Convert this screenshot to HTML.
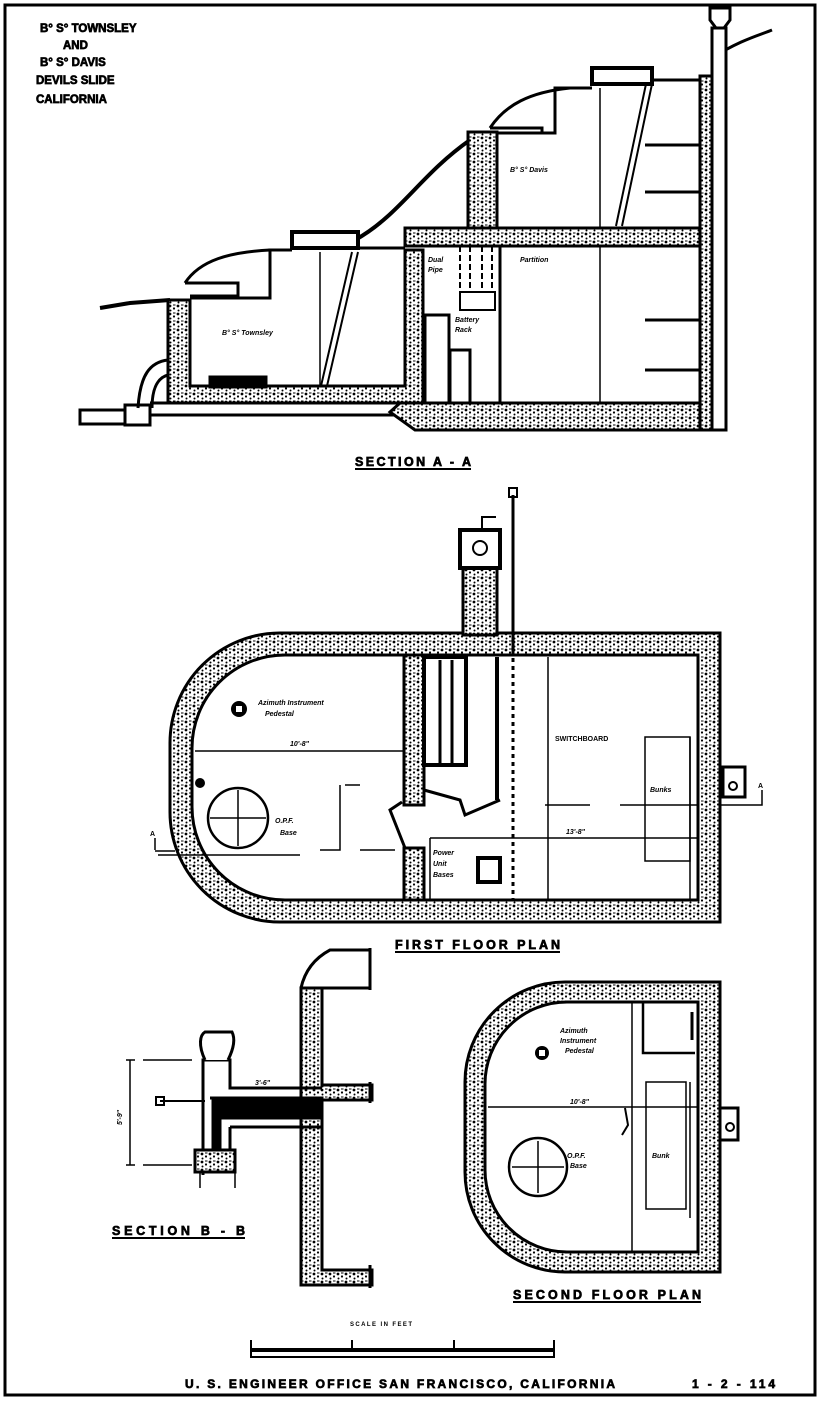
<!DOCTYPE html>
<html><head><meta charset="utf-8"><style>
html,body{margin:0;padding:0;background:#fff}
svg{display:block}
text{font-family:"Liberation Sans",sans-serif;font-weight:bold;fill:#000}
.h{stroke:#000;stroke-width:0.7}
</style></head><body>
<svg width="823" height="1402" viewBox="0 0 823 1402" xmlns="http://www.w3.org/2000/svg">
<defs>
<pattern id="sp" width="8" height="8" patternUnits="userSpaceOnUse">
<rect width="8" height="8" fill="#fff"/>
<circle cx="2" cy="2" r="1.4" fill="#000"/><circle cx="6" cy="4.5" r="1.1" fill="#000"/><circle cx="2.5" cy="6.5" r="1" fill="#000"/><rect x="5" y="0.5" width="2.5" height="1" fill="#000"/>
</pattern>
</defs>
<rect x="5" y="5" width="810" height="1390" fill="none" stroke="#000" stroke-width="3"/>

<!-- title -->
<g font-size="11.5" class="h">
<text x="40" y="32" class="h">B° S° TOWNSLEY</text>
<text x="63" y="49" class="h">AND</text>
<text x="40" y="66" class="h">B° S° DAVIS</text>
<text x="36" y="84" class="h">DEVILS SLIDE</text>
<text x="36" y="103" class="h">CALIFORNIA</text>
</g>

<!-- SECTION A-A -->
<g stroke="#000" stroke-width="3" fill="none">
<path d="M100,308 L130,303 L170,300" stroke-width="4"/>
<path d="M355,240 C400,215 420,175 470,140" stroke-width="4"/>
<path d="M712,58 C740,40 760,35 772,30" stroke-width="3"/>
<path d="M185,283 C200,260 230,252 270,250 M185,283 H238 V296 H190" stroke-width="3"/>
<path d="M490,128 C505,105 530,92 570,88 M490,128 H542 V133 H497" stroke-width="3"/>
<rect x="292" y="232" width="66" height="16" fill="#fff" stroke-width="4"/>
<rect x="592" y="68" width="60" height="16" fill="#fff" stroke-width="4"/>
</g>
<path d="M168,300 H190 V386 H405 V250 H423 V403 H168 Z" fill="url(#sp)" stroke="#000" stroke-width="3"/>
<path d="M405,228 H712 V246 H405 Z" fill="url(#sp)" stroke="#000" stroke-width="3"/>
<path d="M400,403 H720 V430 H415 L390,412 Z" fill="url(#sp)" stroke="#000" stroke-width="3"/>
<path d="M700,76 H720 V430 H700 Z" fill="url(#sp)" stroke="#000" stroke-width="3"/>
<path d="M468,132 H497 V228 H468 Z" fill="url(#sp)" stroke="#000" stroke-width="3"/>
<g stroke="#000" stroke-width="3" fill="none">
<path d="M190,298 H270 V250 H292 M358,248 H405"/>
<path d="M497,133 H555 V88 H592 M652,80 H700"/>
<rect x="712" y="28" width="14" height="402" fill="#fff" stroke-width="3"/>
<path d="M710,8 H730 V20 L724,28 H716 L710,20 Z" fill="#fff"/>
<path d="M168,360 C150,362 140,375 138,408 M168,375 C156,378 152,392 152,408" stroke-width="3"/>
<rect x="80" y="410" width="45" height="14" stroke-width="3"/>
<rect x="125" y="405" width="25" height="20" stroke-width="3"/>
<path d="M150,403 H390 M150,415 H395" stroke-width="3"/>
<path d="M320,252 V386 M600,246 V403 M600,88 V228" stroke-width="1.5"/>
<path d="M358,252 L327,386 M352,252 L321,386" stroke-width="2"/>
<path d="M652,84 L622,226 M646,84 L616,226" stroke-width="2"/>
<path d="M500,246 V403" stroke-width="3"/>
<path d="M645,145 H700 M645,192 H700 M645,320 H700 M645,370 H700" stroke-width="3"/>
<rect x="210" y="377" width="56" height="10" fill="#000"/>
<rect x="425" y="315" width="24" height="88" stroke-width="3"/>
<rect x="450" y="350" width="20" height="53" stroke-width="3"/>
<rect x="460" y="292" width="35" height="18" stroke-width="2"/>
<path d="M460,246 V290 M470,246 V290 M482,246 V290 M492,246 V290" stroke-width="2" stroke-dasharray="6,3"/>
</g>
<g font-size="7" font-style="italic">
<text x="222" y="335">B° S° Townsley</text>
<text x="510" y="172">B° S° Davis</text>
<text x="428" y="262">Dual</text><text x="428" y="272">Pipe</text>
<text x="520" y="262">Partition</text>
<text x="455" y="322">Battery</text><text x="455" y="332">Rack</text>
</g>
<text x="355" y="466" font-size="12.5" textLength="116" class="h">SECTION A - A</text>
<path d="M355,469 H471" stroke="#000" stroke-width="2"/>

<!-- FIRST FLOOR PLAN -->
<path fill-rule="evenodd" fill="url(#sp)" stroke="#000" stroke-width="3" d="M280,633 H720 V922 H280 A110,110 0 0 1 170,812 V743 A110,110 0 0 1 280,633 Z M285,655 H698 V900 H285 A93,93 0 0 1 192,807 V748 A93,93 0 0 1 285,655 Z"/>
<rect x="404" y="655" width="20" height="150" fill="url(#sp)" stroke="#000" stroke-width="3"/>
<rect x="404" y="848" width="20" height="52" fill="url(#sp)" stroke="#000" stroke-width="3"/>
<rect x="463" y="540" width="34" height="95" fill="url(#sp)" stroke="#000" stroke-width="3"/>
<rect x="460" y="530" width="40" height="38" fill="#fff" stroke="#000" stroke-width="4"/>
<circle cx="480" cy="548" r="7" fill="none" stroke="#000" stroke-width="2"/>
<g stroke="#000" stroke-width="3" fill="none">
<path d="M513,495 V655"/><rect x="509" y="488" width="8" height="9" stroke-width="2"/>
<path d="M482,530 V517 H496" stroke-width="2"/>
<rect x="424" y="657" width="42" height="108" stroke-width="4"/>
<path d="M440,660 V763 M452,660 V763" stroke-width="3"/>
<path d="M497,657 V800" stroke-width="4"/>
<path d="M513,658 V900" stroke-width="3" stroke-dasharray="4,4"/>
<path d="M424,790 L460,800 L465,815 L500,800" stroke-width="3"/>
<path d="M402,802 L390,810 L405,848" stroke-width="3"/>
<path d="M548,657 V900" stroke-width="1.5"/>
<path d="M195,751 H404" stroke-width="1.5"/>
<path d="M430,838 H698" stroke-width="1.5"/>
<path d="M430,838 V900" stroke-width="1.5"/>
<rect x="645" y="737" width="45" height="124" stroke-width="1.5"/>
<path d="M690,737 V900" stroke-width="1.5"/>
<path d="M545,805 H590 M620,805 H698 M340,785 V850 H320 M345,785 H360 M360,850 H395" stroke-width="1.5"/>
<path d="M155,850 V838 M155,851 H175 M720,805 H762 V790" stroke-width="1.5"/>
<rect x="723" y="767" width="22" height="30" stroke-width="3"/>
<circle cx="733" cy="786" r="4" stroke-width="2"/>
<rect x="478" y="858" width="22" height="24" stroke-width="4"/>
<circle cx="238" cy="818" r="30" stroke-width="2.5"/>
<path d="M210,818 H266 M238,790 V846" stroke-width="1.5"/>
<path d="M158,855 H300" stroke-width="1.5"/>
</g>
<circle cx="200" cy="783" r="5" fill="#000"/>
<circle cx="239" cy="709" r="8" fill="#000"/><rect x="236" y="706" width="6" height="6" fill="#fff"/>
<g font-size="7" font-style="italic">
<text x="258" y="705">Azimuth Instrument</text><text x="265" y="716">Pedestal</text>
<text x="290" y="746">10'-8"</text>
<text x="275" y="823">O.P.F.</text><text x="280" y="835">Base</text>
<text x="555" y="741" font-style="normal" font-size="7">SWITCHBOARD</text>
<text x="650" y="792">Bunks</text>
<text x="566" y="834">13'-8"</text>
<text x="433" y="855">Power</text><text x="433" y="866">Unit</text><text x="433" y="877">Bases</text>
<text x="150" y="836" font-style="normal">A</text><text x="758" y="788" font-style="normal">A</text>
</g>
<text x="395" y="949" font-size="12.5" textLength="165" class="h">FIRST FLOOR PLAN</text>
<path d="M395,952 H560" stroke="#000" stroke-width="2"/>

<!-- SECTION B-B -->
<path d="M301,988 H322 V1085 H372 V1100 H322 V1270 H372 V1285 H301 Z" fill="url(#sp)" stroke="#000" stroke-width="3"/>
<g stroke="#000" stroke-width="3" fill="none">
<path d="M301,988 C305,970 315,958 330,950 H370 M322,988 H370 M370,948 V990 M370,1082 V1103 M370,1265 V1288"/>
<path d="M203,1175 V1060 H230 V1088 H322 M230,1127 V1160 M230,1127 H322" stroke-width="3"/>
<path d="M210,1098 H322 V1118 H220 V1165 H213 V1098 Z" fill="#000"/>
<path d="M205,1060 C198,1045 200,1035 205,1032 H232 C236,1040 233,1050 228,1060" fill="#fff"/>
<rect x="195" y="1150" width="40" height="22" fill="url(#sp)" stroke-width="3"/>
<path d="M160,1101 H205" stroke-width="2"/><rect x="156" y="1097" width="8" height="8" stroke-width="2"/>
<path d="M130,1060 V1165 M126,1060 H135 M126,1165 H135 M143,1060 H192 M143,1165 H192" stroke-width="1.5"/>
<path d="M200,1172 V1188 M235,1172 V1188" stroke-width="1.5"/>
</g>
<g font-size="7" font-style="italic"><text x="255" y="1085">3'-6"</text>
<text x="122" y="1125" transform="rotate(-90 122 1125)">5'-9"</text></g>
<text x="112" y="1235" font-size="12.5" textLength="133" class="h">SECTION B - B</text>
<path d="M112,1238 H245" stroke="#000" stroke-width="2"/>

<!-- SECOND FLOOR PLAN -->
<path fill-rule="evenodd" fill="url(#sp)" stroke="#000" stroke-width="3" d="M565,982 H720 V1272 H565 A100,100 0 0 1 465,1172 V1082 A100,100 0 0 1 565,982 Z M567,1002 H698 V1252 H567 A82,82 0 0 1 485,1170 V1084 A82,82 0 0 1 567,1002 Z"/>
<g stroke="#000" stroke-width="2" fill="none">
<path d="M632,1002 V1252" stroke-width="1.5"/>
<path d="M488,1107 H698" stroke-width="1.5"/>
<path d="M643,1002 V1053 H695" stroke-width="2.5"/>
<path d="M692,1012 V1040" stroke-width="3"/>
<rect x="646" y="1082" width="40" height="127" stroke-width="1.5"/>
<path d="M690,1082 V1218" stroke-width="1.5"/>
<circle cx="538" cy="1167" r="29" stroke-width="2.5"/>
<path d="M512,1167 H564 M538,1141 V1193" stroke-width="1.5"/>
<rect x="720" y="1108" width="18" height="32" stroke-width="3"/>
<circle cx="730" cy="1127" r="4"/>
<path d="M625,1108 L628,1125 L622,1135" stroke-width="2"/>
</g>
<circle cx="542" cy="1053" r="7" fill="#000"/><rect x="539" y="1050" width="6" height="6" fill="#fff"/>
<g font-size="7" font-style="italic">
<text x="560" y="1033">Azimuth</text><text x="560" y="1043">Instrument</text><text x="565" y="1053">Pedestal</text>
<text x="570" y="1104">10'-8"</text>
<text x="567" y="1158">O.P.F.</text><text x="570" y="1168">Base</text>
<text x="652" y="1158">Bunk</text>
</g>
<text x="513" y="1299" font-size="12.5" textLength="188" class="h">SECOND FLOOR PLAN</text>
<path d="M513,1302 H701" stroke="#000" stroke-width="2"/>

<!-- scale -->
<text x="350" y="1326" font-size="6" textLength="62">SCALE IN FEET</text>
<path d="M250,1350 H555" stroke="#000" stroke-width="4"/>
<path d="M250,1357 H555" stroke="#000" stroke-width="2"/>
<path d="M251,1340 V1357 M352,1340 V1352 M454,1340 V1352 M554,1340 V1357" stroke="#000" stroke-width="2"/>
<text x="185" y="1388" font-size="12" textLength="430" class="h">U. S. ENGINEER OFFICE  SAN FRANCISCO, CALIFORNIA</text>
<text x="692" y="1388" font-size="12" textLength="83" class="h">1 - 2 - 114</text>
</svg>
</body></html>
